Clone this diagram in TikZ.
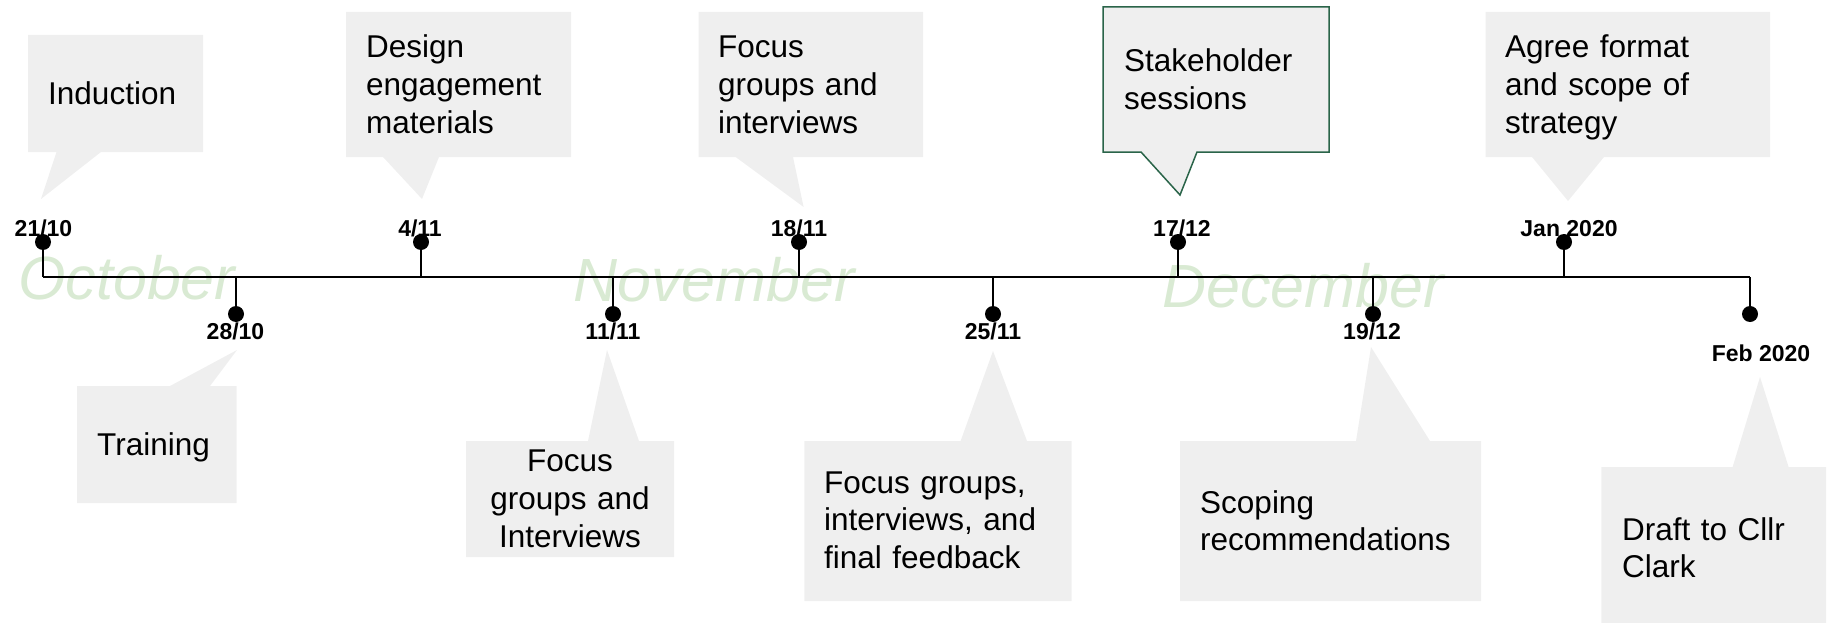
\documentclass[tikz,border=0pt]{standalone}
\usepackage{fontspec}
\setmainfont{Liberation Sans}
\definecolor{boxgrey}{HTML}{EFEFEF}
\definecolor{monthgreen}{HTML}{D9EAD3}
\definecolor{stakegreen}{HTML}{2A6449}
\begin{document}
\begin{tikzpicture}[x=1pt,y=-1pt,
  callout/.style={fill=boxgrey, draw=none},
  calltext/.style={inner sep=0pt, anchor=base west, align=left, text width=#1,
    font=\fontsize{31.5}{37.7}\selectfont},
  calltext/.default=300pt,
  datelabel/.style={inner sep=0pt, anchor=base, font=\bfseries\fontsize{23}{27}\selectfont},
  dot/.style={circle, fill=black, inner sep=0pt, minimum size=16pt},
  month/.style={inner sep=0pt, anchor=base west, text=monthgreen,
    font=\itshape\fontsize{61}{70}\selectfont},
  axisline/.style={line width=2pt, black},
  stem/.style={line width=1.6pt, black}]
\useasboundingbox (0,0) rectangle (1827,623);

% month watermarks
\node[month] (oct) at (18,299) {October};
\node[month] (nov) at (573,301) {November};
\node[month] (dec) at (1162,307) {December};

% callout shapes (top)
\fill[callout] (28,35) -- (203,35) -- (203,152) -- (101,152) -- (41,199) -- (56.5,152) -- (28,152) -- cycle;
\fill[callout] (346,12) -- (571,12) -- (571,157) -- (439,157) -- (422,199) -- (383,157) -- (346,157) -- cycle;
\fill[callout] (698.5,12) -- (923,12) -- (923,157) -- (793,157) -- (803.6,207) -- (735.6,157) -- (698.5,157) -- cycle;
\filldraw[fill=boxgrey, draw=stakegreen, line width=1.5pt] (1103,7) -- (1329,7) -- (1329,152) -- (1197,152) -- (1180,195) -- (1141,152) -- (1103,152) -- cycle;
\fill[callout] (1485.5,12) -- (1770,12) -- (1770,157) -- (1604,157) -- (1568,201) -- (1532,157) -- (1485.5,157) -- cycle;

% callout shapes (bottom)
\fill[callout] (77,386) -- (170,386) -- (237,350) -- (210,386) -- (236.5,386) -- (236.5,503) -- (77,503) -- cycle;
\fill[callout] (466,441) -- (588,441) -- (607,350) -- (639,441) -- (674,441) -- (674,557) -- (466,557) -- cycle;
\fill[callout] (804.4,441) -- (960.6,441) -- (993,351) -- (1027,441) -- (1071.7,441) -- (1071.7,601) -- (804.4,601) -- cycle;
\fill[callout] (1180,441) -- (1356,441) -- (1371,347) -- (1430,441) -- (1481,441) -- (1481,601) -- (1180,601) -- cycle;
\fill[callout] (1601.4,467) -- (1732.6,467) -- (1760,377) -- (1788.6,467) -- (1826,467) -- (1826,623) -- (1601.4,623) -- cycle;

% callout texts
\node[calltext] (tInduction) at (48,105) {Induction};
\node[calltext] (tDesign) at (366,58) {Design\\engagement\\materials};
\node[calltext] (tFocusA) at (718,58) {Focus\\groups and\\interviews};
\node[calltext] (tStake) at (1124,72) {Stakeholder\\sessions};
\node[calltext] (tAgree) at (1505,58) {Agree format\\and scope of\\strategy};
\node[calltext] (tTraining) at (97,455) {Training};
\node[inner sep=0pt, anchor=base, align=center, text width=200pt,
  font=\fontsize{31.5}{37.7}\selectfont] (tFocusB) at (570,471.7) {Focus\\groups and\\Interviews};
\node[calltext] (tFocusC) at (824,493) {Focus groups,\\interviews, and\\final feedback};
\node[calltext] (tScoping) at (1200,513) {Scoping\\recommendations};
\node[calltext] (tDraft) at (1622,540) {Draft to Cllr\\Clark};

% axis
\coordinate (axL) at (43,277);
\coordinate (axR) at (1750,277);
\draw[axisline] (axL) -- (axR);

% date labels
\node[datelabel] (l1) at (43.5,236) {21/10};
\node[datelabel] (l2) at (420,236) {4/11};
\node[datelabel] (l3) at (799,236) {18/11};
\node[datelabel] (l4) at (1182,236) {17/12};
\node[datelabel] (l5) at (1569,236) {Jan 2020};
\node[datelabel] (l6) at (235.5,339) {28/10};
\node[datelabel] (l7) at (613,339) {11/11};
\node[datelabel] (l8) at (993,339) {25/11};
\node[datelabel] (l9) at (1372,339) {19/12};
\node[datelabel] (l10) at (1761,361) {Feb 2020};

% dots
\node[dot] (d1) at (43,242) {};
\node[dot] (d2) at (421,242) {};
\node[dot] (d3) at (799,242) {};
\node[dot] (d4) at (1178,242) {};
\node[dot] (d5) at (1564,242) {};
\node[dot] (d6) at (236,314) {};
\node[dot] (d7) at (613,314) {};
\node[dot] (d8) at (993,314) {};
\node[dot] (d9) at (1373,314) {};
\node[dot] (d10) at (1750,314) {};

% stems
\foreach \d in {d1,d2,d3,d4,d5,d6,d7,d8,d9,d10}
  \draw[stem] (\d.center) -- (\d.center |- axL);
\end{tikzpicture}
\end{document}
